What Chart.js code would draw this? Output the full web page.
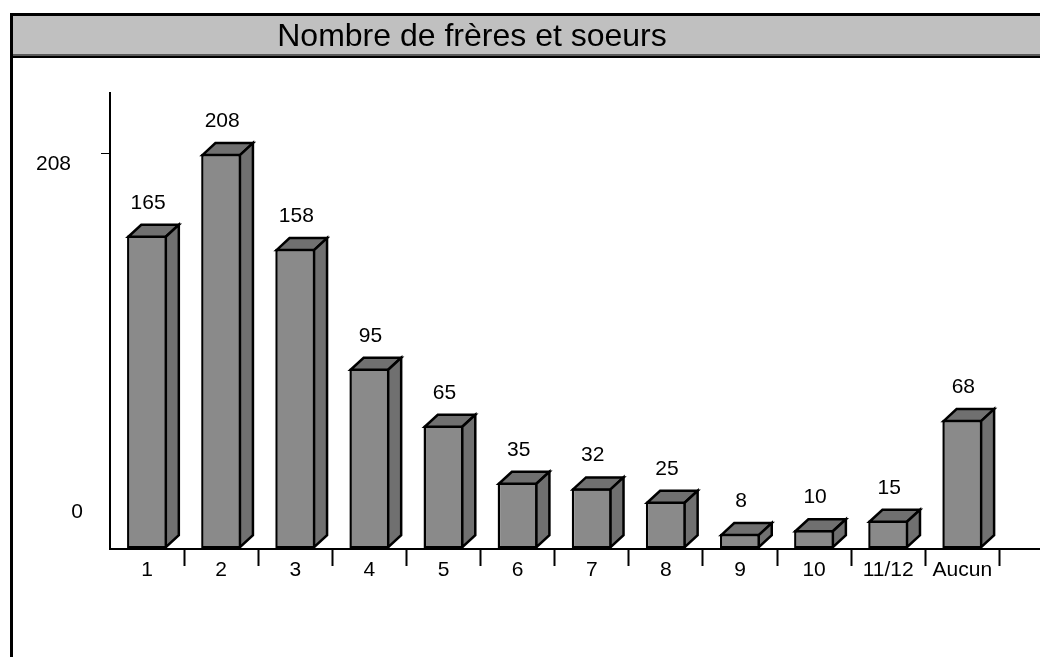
<!DOCTYPE html>
<html lang="fr">
<head>
<meta charset="utf-8">
<title>Nombre de frères et soeurs</title>
<script src="https://cdn.jsdelivr.net/npm/chart.js@4/dist/chart.umd.min.js"></script>
<style>
  html, body { margin: 0; padding: 0; background: #fff; }
  #graphique { display: block; }
</style>
</head>
<body>
<canvas id="graphique" width="1040" height="657"></canvas>
<script>
// Données : nombre de frères et soeurs déclarés
const categories = ['1', '2', '3', '4', '5', '6', '7', '8', '9', '10', '11/12', 'Aucun'];
const effectifs = [165, 208, 158, 95, 65, 35, 32, 25, 8, 10, 15, 68];
const graduationsY = [0, 208];
const titre = 'Nombre de frères et soeurs';

const POLICE = '"Liberation Sans", Arial, sans-serif';
const PROF_X = 13;   // profondeur du relief vers la droite
const PROF_Y = 12;   // profondeur du relief vers le haut
const TRAIT = 2.5;   // épaisseur des contours des barres

// Cadre noir + bandeau gris du titre
const cadre = {
  id: 'cadre',
  beforeDraw(chart) {
    const ctx = chart.ctx;
    const w = chart.width, h = chart.height;
    ctx.save();
    ctx.fillStyle = '#fff';
    ctx.fillRect(0, 0, w, h);
    ctx.fillStyle = '#c0c0c0';
    ctx.fillRect(13, 16, w - 13, 38);
    ctx.fillStyle = '#5a5a5a';
    ctx.fillRect(13, 54, w - 13, 2);
    ctx.fillStyle = '#000';
    ctx.fillRect(13, 56, w - 13, 2);
    ctx.fillRect(10, 13, w - 10, 3);
    ctx.fillRect(10, 13, 3, h - 13);
    ctx.font = '32px ' + POLICE;
    ctx.textAlign = 'center';
    ctx.textBaseline = 'alphabetic';
    ctx.fillText(titre, 472, 46);
    ctx.restore();
  }
};

// Ligne de base, faces du dessus et de côté, étiquettes de valeurs
const relief = {
  id: 'relief',
  beforeDatasetsDraw(chart) {
    const ctx = chart.ctx;
    const y0 = chart.scales.y.getPixelForValue(0);
    ctx.save();
    ctx.strokeStyle = '#000';
    ctx.lineWidth = 2;
    ctx.beginPath();
    ctx.moveTo(chart.chartArea.left, y0);
    ctx.lineTo(chart.width, y0);
    ctx.stroke();
    ctx.restore();
  },
  afterDatasetsDraw(chart) {
    const ctx = chart.ctx;
    const meta = chart.getDatasetMeta(0);
    const bw = TRAIT;
    ctx.save();
    ctx.lineWidth = bw;
    ctx.strokeStyle = '#000';
    ctx.lineJoin = 'miter';
    meta.data.forEach((barre, i) => {
      const p = barre.getProps(['x', 'y', 'base', 'width'], true);
      const l = p.x - p.width / 2 + bw / 2;
      const r = p.x + p.width / 2 - bw / 2;
      const t = p.y + bw / 2;
      const b = p.base - bw / 2;

      // face du dessus
      ctx.fillStyle = '#707070';
      ctx.beginPath();
      ctx.moveTo(l, t);
      ctx.lineTo(l + PROF_X, t - PROF_Y);
      ctx.lineTo(r + PROF_X, t - PROF_Y);
      ctx.lineTo(r, t);
      ctx.closePath();
      ctx.fill();
      ctx.stroke();

      // face de côté
      ctx.beginPath();
      ctx.moveTo(r, t);
      ctx.lineTo(r + PROF_X, t - PROF_Y);
      ctx.lineTo(r + PROF_X, b - PROF_Y);
      ctx.lineTo(r, b);
      ctx.closePath();
      ctx.fill();
      ctx.stroke();

      // valeur au-dessus de la barre
      ctx.fillStyle = '#000';
      ctx.font = '21px ' + POLICE;
      ctx.textAlign = 'center';
      ctx.textBaseline = 'middle';
      ctx.fillText(String(effectifs[i]), p.x + 1, t - PROF_Y - 22);
    });
    ctx.restore();
  },
  afterDraw(chart) {
    // libellés de l'axe vertical (décalés comme sur l'original)
    const ctx = chart.ctx;
    const echelle = chart.scales.y;
    const decalages = { 0: [83, -37], 208: [71, 10.5] };
    ctx.save();
    ctx.fillStyle = '#000';
    ctx.font = '21px ' + POLICE;
    ctx.textAlign = 'right';
    ctx.textBaseline = 'middle';
    graduationsY.forEach(v => {
      const d = decalages[v] || [100, 0];
      ctx.fillText(String(v), d[0], echelle.getPixelForValue(v) + d[1]);
    });
    ctx.restore();
  }
};

new Chart(document.getElementById('graphique'), {
  type: 'bar',
  data: {
    labels: categories,
    datasets: [{
      data: effectifs,
      backgroundColor: '#8a8a8a',
      borderColor: '#000',
      borderWidth: TRAIT,
      borderSkipped: false,
      categoryPercentage: 1,
      barPercentage: 0.54
    }]
  },
  options: {
    responsive: false,
    animation: false,
    devicePixelRatio: 1,
    layout: { padding: { top: 93, right: 40.6, left: 0, bottom: 0 } },
    plugins: {
      legend: { display: false },
      title: { display: false },
      tooltip: { enabled: false }
    },
    scales: {
      x: {
        offset: true,
        border: { display: false },
        grid: {
          offset: true,
          drawOnChartArea: false,
          drawTicks: true,
          tickLength: 17,
          tickWidth: 2,
          tickColor: c => (c.index === 0 ? 'rgba(0,0,0,0)' : '#000')
        },
        ticks: {
          color: '#000',
          font: { family: POLICE, size: 21 },
          padding: -8,
          maxRotation: 0,
          autoSkip: false
        },
        afterFit(scale) { scale.height = 108; }
      },
      y: {
        min: 0,
        max: 240,
        border: { display: true, color: '#000', width: 2 },
        grid: {
          drawOnChartArea: false,
          drawTicks: true,
          tickLength: 9,
          tickWidth: 1,
          tickColor: c => (c.tick && c.tick.value === 208 ? '#000' : 'rgba(0,0,0,0)')
        },
        ticks: { display: false },
        afterBuildTicks(scale) {
          scale.ticks = graduationsY.map(v => ({ value: v }));
        },
        afterFit(scale) { scale.width = 110; }
      }
    }
  },
  plugins: [cadre, relief]
});
</script>
</body>
</html>
